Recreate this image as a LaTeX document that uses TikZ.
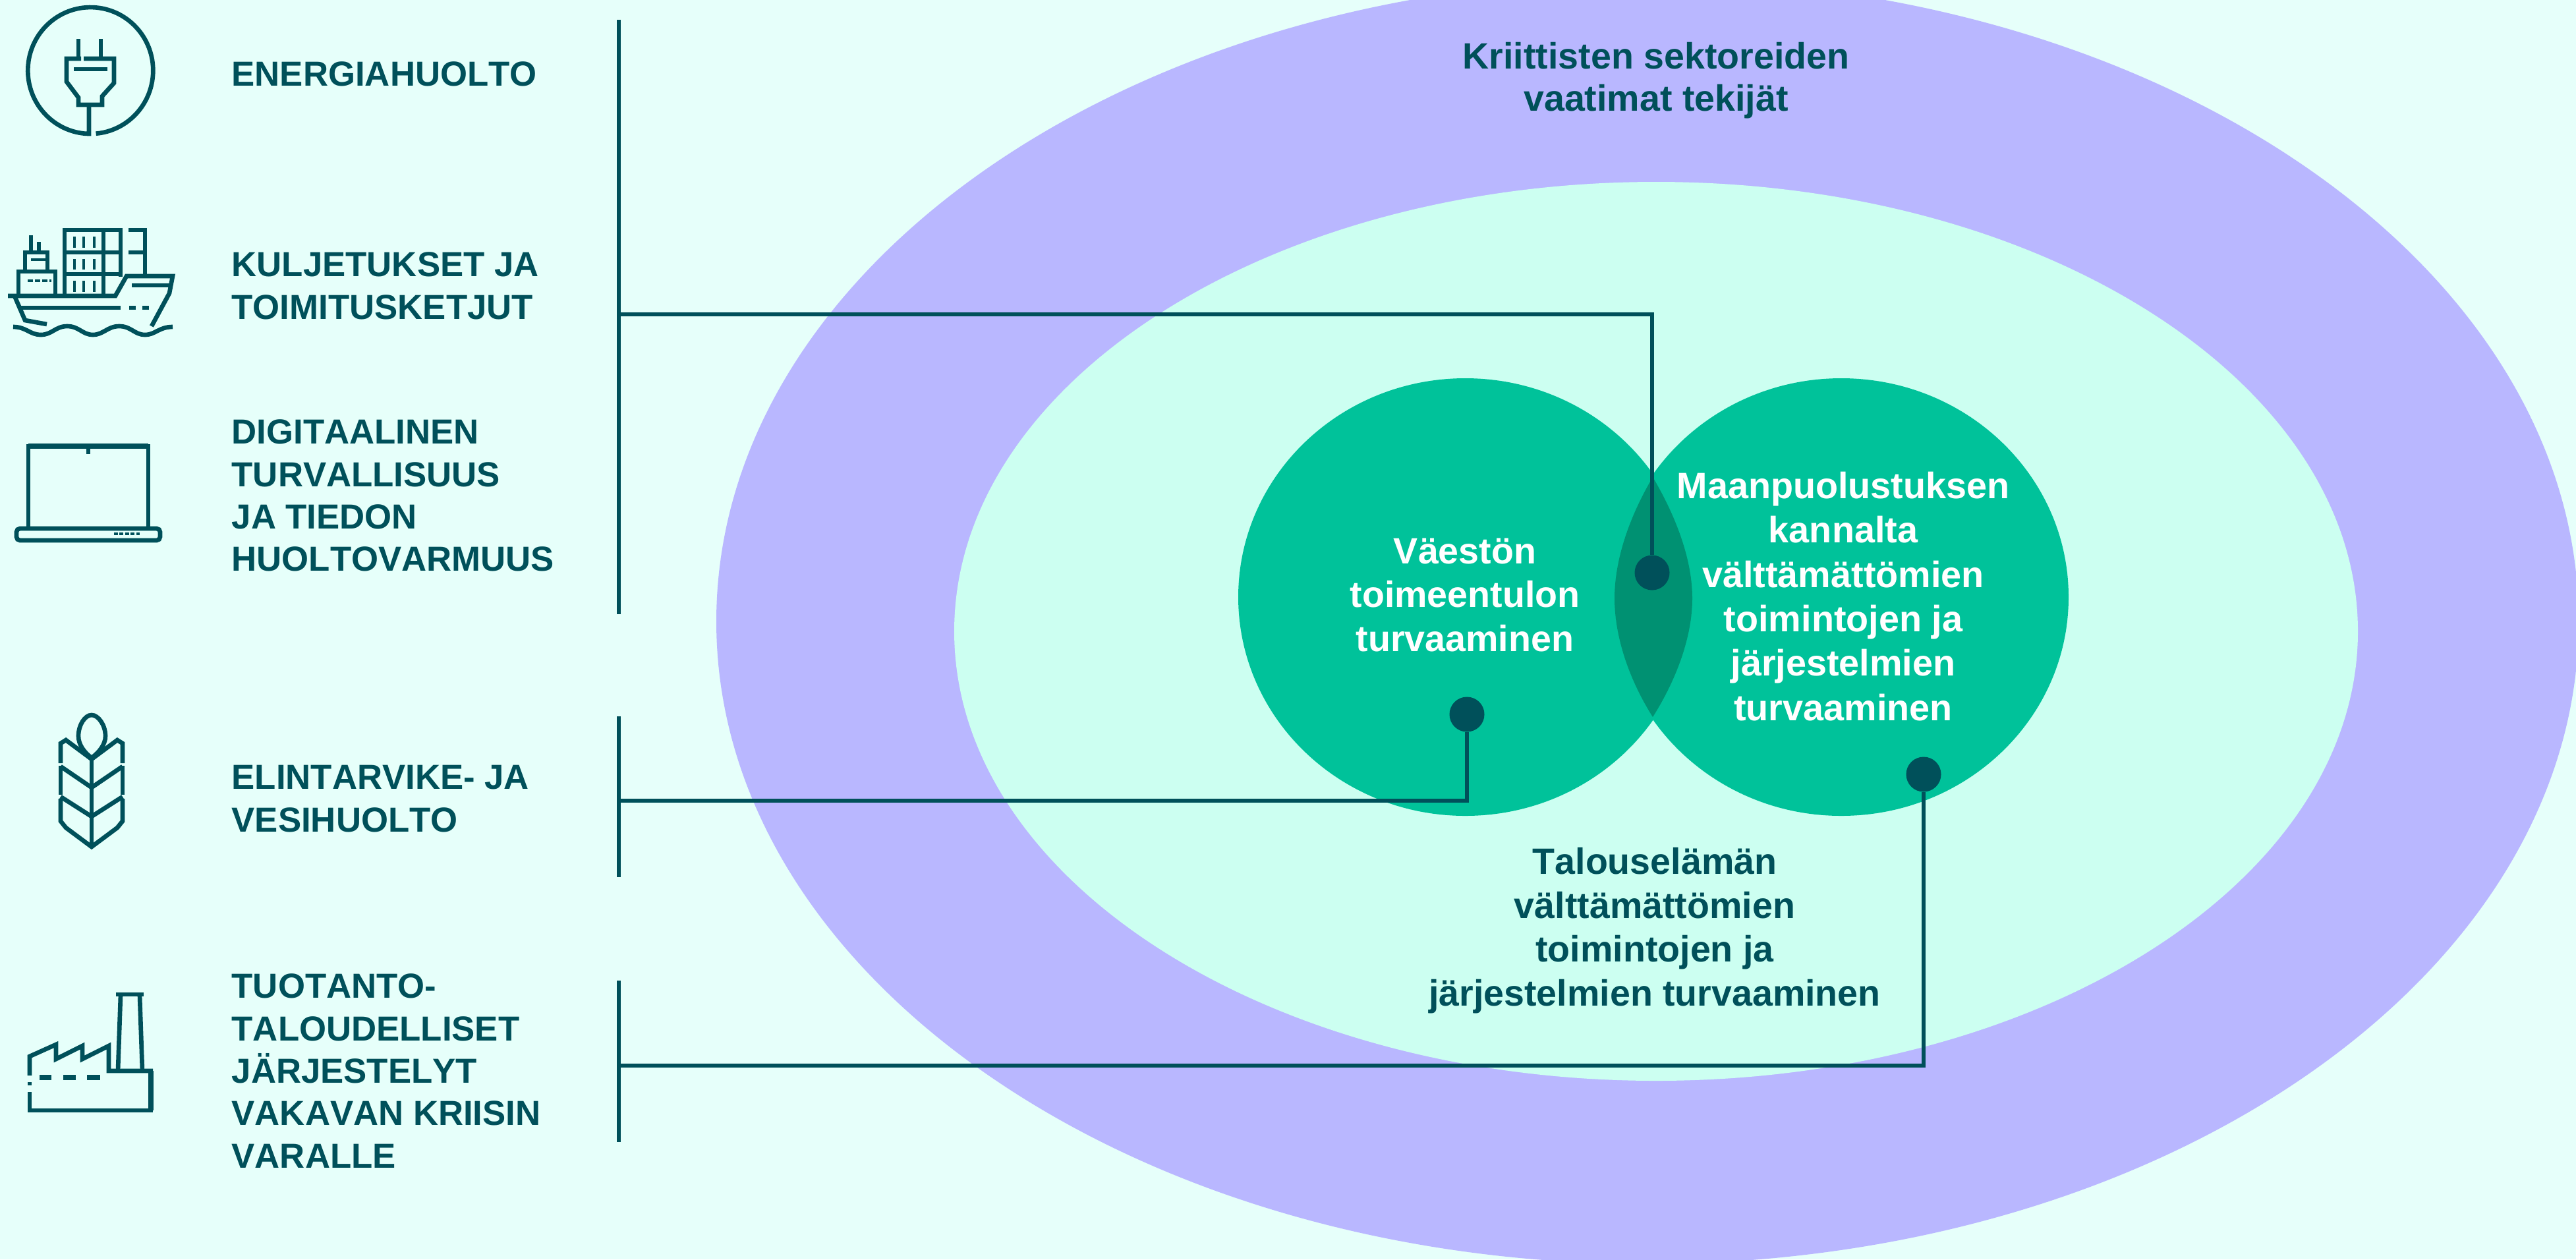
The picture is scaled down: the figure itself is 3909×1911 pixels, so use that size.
\documentclass[tikz,border=0pt]{standalone}
\usepackage{fontspec}
\setmainfont[Kerning=Off]{Liberation Sans}
\definecolor{bgc}{HTML}{E6FFFA}
\definecolor{outerc}{HTML}{B9B7FF}
\definecolor{innerc}{HTML}{CCFFF1}
\definecolor{circc}{HTML}{00C29A}
\definecolor{lensc}{HTML}{009172}
\definecolor{dk}{HTML}{00505A}
\tikzset{
  conn/.style={draw=dk,line width=1.5pt},
  dotn/.style={circle,fill=dk,inner sep=0pt,minimum size=0.53cm},
  lab/.style={anchor=west,align=left,text=dk,inner sep=0pt,font=\fontsize{15}{18.3}\selectfont\bfseries},
  clab/.style={align=center,text=dk,inner sep=0pt,font=\fontsize{15.8}{18.97}\selectfont\bfseries},
  wlab/.style={align=center,text=white,inner sep=0pt,font=\fontsize{15.85}{19.15}\selectfont\bfseries},
  icon/.style={draw=dk,line width=1.9pt,line join=miter},
  iconthin/.style={draw=dk,line width=1.4pt},
}
\begin{document}
\begin{tikzpicture}[x=0.01cm,y=-0.01cm]
\clip (0,0) rectangle (3909,1911);
\fill[bgc] (0,0) rectangle (3909,1911);
% ellipses
\fill[outerc] (2500,943) ellipse [x radius=1413,y radius=975];
\fill[innerc] (2513,958) ellipse [x radius=1065,y radius=682];
% venn circles
\fill[circc] (2223.5,906) ellipse [x radius=344.5,y radius=332];
\fill[circc] (2794,906) ellipse [x radius=345,y radius=332];
\fill[lensc] (2508,724) .. controls (2472,785) and (2450,850) .. (2450,908) .. controls (2450,966) and (2472,1031) .. (2508,1088) .. controls (2544,1031) and (2568,966) .. (2568,908) .. controls (2568,850) and (2544,785) .. (2508,724) -- cycle;
% vertical bars
\coordinate (b1t) at (939,30);
\coordinate (b1b) at (939,932);
\coordinate (b1m) at (939,477);
\coordinate (b2t) at (939,1087);
\coordinate (b2b) at (939,1331);
\coordinate (b2m) at (939,1215);
\coordinate (b3t) at (939,1488);
\coordinate (b3b) at (939,1733);
\coordinate (b3m) at (939,1617);
\draw[conn] (b1t) -- (b1b);
\draw[conn] (b2t) -- (b2b);
\draw[conn] (b3t) -- (b3b);
% dots
\node[dotn] (d1) at (2507,869) {};
\node[dotn] (d2) at (2226,1084) {};
\node[dotn] (d3) at (2919,1175) {};
\draw[conn] (b1m) -| (d1);
\draw[conn] (b2m) -| (d2);
\draw[conn] (b3m) -| (d3);
% left labels
\node[lab] (l1) at (351,112) {ENERGIAHUOLTO};
\node[lab] (l2) at (351,434) {KULJETUKSET JA\\TOIMITUSKETJUT};
\node[lab] (l3) at (351,752) {DIGITAALINEN\\TURVALLISUUS\\JA TIEDON\\HUOLTOVARMUUS};
\node[lab] (l4) at (351,1212) {ELINTARVIKE- JA\\VESIHUOLTO};
\node[lab] (l5) at (351,1625) {TUOTANTO-\\TALOUDELLISET\\JÄRJESTELYT\\VAKAVAN KRIISIN\\VARALLE};
% centre labels
\node[clab,font=\fontsize{15.8}{18.2}\selectfont\bfseries] (t1) at (2513,122) {Kriittisten sektoreiden\\vaatimat tekijät};
\node[wlab,font=\fontsize{15.8}{19}\selectfont\bfseries] (t2) at (2223,903) {Väestön\\toimeentulon\\turvaaminen};
\node[wlab] (t3) at (2797,905) {Maanpuolustuksen\\kannalta\\välttämättömien\\toimintojen ja\\järjestelmien\\turvaaminen};
\node[clab] (t4) at (2511,1412) {Talouselämän\\välttämättömien\\toimintojen ja\\järjestelmien turvaaminen};
% plug icon
\draw[icon] (135,159) -- (135,203) -- ++(-1,0) arc[start angle=92,end angle=445,x radius=95,y radius=96];
\draw[icon] (119,59) -- (119,89) (153,59) -- (153,89);
\draw[icon] (123,89) -- (101,89) -- (101,124) -- (119,148) -- (119,159) -- (155,159) -- (155,146) -- (173,126) -- (173,89) -- (127,89);
\draw[icon] (112,105) -- (163,105);
% ship icon
\draw[icon] (98,449) -- (98,349) -- (183,349) -- (183,420);
\draw[icon] (157,349) -- (157,449) (98,383) -- (183,383) (98,416) -- (183,416);
\draw[icon] (195,349) -- (220,349) -- (220,419) (195,383) -- (220,383);
\foreach \yy/\aa/\bb in {1/359/376,2/393/409,3/426/443} \foreach \xx in {113,127,143} \draw[iconthin] (\xx,\aa) -- (\xx,\bb);
\draw[icon] (28,449) -- (28,412) -- (84,412) -- (84,449);
\draw[icon] (38,412) -- (38,383) -- (72,383) -- (72,412);
\draw[icon] (47,357) -- (47,383) (59,367) -- (59,383);
\draw[iconthin] (47,394) -- (71,394);
\draw[iconthin,dash pattern=on 2.2pt off 0.9pt] (42,426) -- (78,426);
\draw[icon] (12,449) -- (175,449) -- (192,419) -- (262,419) -- (257,445) -- (230,495);
\draw[icon] (22,449) -- (38,486) -- (71,492);
\draw[icon] (30,467) -- (183,467);
\draw[icon] (200,433) -- (257,433);
\draw[icon] (196,467) -- (206,467) (216,467) -- (226,467);
\draw[icon] (20,496) .. controls (40,496) and (45,508) .. (62,508) .. controls (79,508) and (84,495) .. (102,495) .. controls (120,495) and (125,508) .. (141,508) .. controls (157,508) and (163,495) .. (181,495) .. controls (199,495) and (204,508) .. (220,508) .. controls (236,508) and (241,496) .. (262,496);
% laptop icon
\draw[icon] (43,799) -- (43,677) -- (225,677) -- (225,799);
\draw[icon,line width=2.4pt] (43,677) -- (225,677);
\draw[icon] (134,678) -- (134,689);
\draw[icon,rounded corners=1.5pt] (25,802) -- (243,802) -- (243,820) -- (25,820) -- cycle;
\draw[iconthin,dash pattern=on 1.6pt off 0.8pt] (173,810) -- (212,810);
% wheat icon
\draw[icon] (139,1150) -- (139,1285);
\draw[icon] (139,1150) .. controls (128,1142) and (119,1130) .. (119,1117) .. controls (119,1100) and (129,1085) .. (139,1085) .. controls (149,1085) and (160,1100) .. (160,1117) .. controls (160,1130) and (150,1142) .. (139,1150);
\draw[icon] (139,1152) -- (100,1123) -- (92,1128) -- (92,1158);
\draw[icon] (186,1158) -- (186,1128) -- (178,1123) -- (139,1152);
\draw[icon] (92,1163) -- (139,1195) -- (186,1163);
\draw[icon] (92,1209) -- (139,1239) -- (186,1209);
\draw[icon] (92,1162) -- (92,1206) (186,1162) -- (186,1206);
\draw[icon] (92,1212) -- (92,1246) -- (100,1256) -- (139,1285) -- (178,1256) -- (186,1246) -- (186,1212);
% factory icon
\draw[icon] (45,1632) -- (45,1603) -- (85,1585) -- (85,1607) -- (125,1587) -- (125,1607) -- (165,1587) -- (165,1625) -- (232,1625);
\draw[icon,line width=2.4pt] (229,1625) -- (229,1685);
\draw[icon] (232,1685) -- (45,1685) -- (45,1657);
\draw[icon] (45,1642) -- (45,1647);
\draw[icon] (179,1625) -- (183,1510) (212,1510) -- (216,1625);
\draw[icon] (176,1509) -- (218,1509);
\draw[icon,line width=2.4pt] (60,1635) -- (78,1635) (96,1635) -- (115,1635) (132,1635) -- (152,1635);
\end{tikzpicture}
\end{document}
